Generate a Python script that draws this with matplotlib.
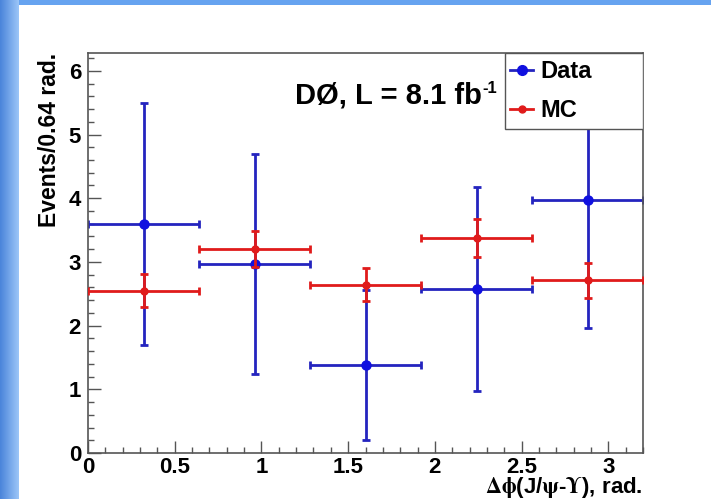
import matplotlib
matplotlib.use('Agg')
import matplotlib.pyplot as plt
import numpy as np
from matplotlib.lines import Line2D
from matplotlib.patches import Rectangle
from matplotlib.ticker import MultipleLocator, FormatStrFormatter

# bins of delta phi, 0.64 rad wide
bin_centers = [0.32, 0.96, 1.60, 2.24, 2.88]
bin_half_width = 0.32

data_vals = [3.59, 2.97, 1.38, 2.57, 3.97]
data_errs = [1.90, 1.73, 1.18, 1.60, 2.00]

mc_vals = [2.55, 3.20, 2.64, 3.38, 2.71]
mc_errs = [0.26, 0.28, 0.26, 0.30, 0.27]

x_ticks = [0, 0.5, 1, 1.5, 2, 2.5, 3]
y_ticks = [0, 1, 2, 3, 4, 5, 6]

BLUE = '#2424bf'
RED = '#e01b1b'
FRAME = '#555555'

plt.rcParams['font.family'] = ['Liberation Sans', 'DejaVu Sans']
plt.rcParams['font.weight'] = 'bold'
plt.rcParams['mathtext.fontset'] = 'stix'

W, H = 711, 499
fig = plt.figure(figsize=(W / 100, H / 100), dpi=100)
fig.patch.set_facecolor('white')

# blue slide frame on left and top
bg = fig.add_axes([0, 0, 1, 1])
bg.set_xlim(0, W)
bg.set_ylim(H, 0)
bg.axis('off')
grad = np.linspace(0, 1, 64).reshape(1, -1)
cmap = matplotlib.colors.LinearSegmentedColormap.from_list('band', ['#4a84da', '#9cc6f8'])
bg.imshow(grad, extent=[0, 19, H, 0], cmap=cmap, aspect='auto')
bg.add_patch(Rectangle((19, 0), W - 19, 5, color='#66a3f0', lw=0))

ax = fig.add_axes([88 / W, (H - 453) / H, 555 / W, 400 / H])
ax.set_xlim(0, 3.2)
ax.set_ylim(0, 6.28)

ax.errorbar(bin_centers, data_vals, xerr=bin_half_width, yerr=data_errs,
            fmt='o', color=BLUE, mfc='#1010e0', mec='#1010e0', ms=6.5,
            elinewidth=2.0, capsize=3, capthick=2.0, zorder=2)
ax.errorbar(bin_centers, mc_vals, xerr=bin_half_width, yerr=mc_errs,
            fmt='o', color=RED, ms=5, elinewidth=2.0, capsize=3,
            capthick=2.0, zorder=3)

# axis style, ROOT-like
for side in ['left', 'right', 'top', 'bottom']:
    ax.spines[side].set_color(FRAME)
    ax.spines[side].set_linewidth(1.2)
ax.xaxis.set_major_locator(MultipleLocator(0.5))
ax.xaxis.set_minor_locator(MultipleLocator(0.1))
ax.yaxis.set_major_locator(MultipleLocator(1))
ax.yaxis.set_minor_locator(MultipleLocator(0.2))
ax.set_xticks(x_ticks)
ax.set_yticks(y_ticks)
ax.xaxis.set_major_formatter(FormatStrFormatter('%g'))
ax.tick_params(which='both', direction='in', color=FRAME, width=1.0,
               labelsize=16, top=False, right=False)
ax.tick_params(which='major', length=9)
ax.tick_params(which='minor', length=4.5)
ax.tick_params(axis='x', pad=3)
ax.tick_params(axis='y', pad=5)

ax.text(-0.070, 1.0, 'Events/0.64 rad.', transform=ax.transAxes, rotation=90,
        ha='center', va='top', fontsize=16.5, fontweight='bold')
ax.text(1.0, -0.087, r'$\mathrm{\Delta\phi}$(J/$\mathrm{\psi}$-$\mathrm{\Upsilon}$), rad.',
        transform=ax.transAxes, ha='right', va='center', fontsize=16,
        fontweight='bold')

label = ax.text(0.373, 0.875, 'DØ, L = 8.1 fb', transform=ax.transAxes,
                ha='left', va='baseline', fontsize=21, fontweight='bold')
ax.annotate('-1', xy=(1.0, 1.0), xycoords=label, xytext=(0.5, 0),
            textcoords='offset points', ha='left', va='top',
            fontsize=12, fontweight='bold')

# legend box in the top right corner
ax.add_patch(Rectangle((0.751, 0.81), 0.249, 0.19, transform=ax.transAxes,
                       facecolor='white', edgecolor=FRAME, lw=1.0, zorder=4))
handles = [Line2D([], [], color=BLUE, lw=2.0, marker='o', ms=7, mfc='#1010e0', mec='#1010e0'),
           Line2D([], [], color=RED, lw=2.0, marker='o', ms=5)]
leg = ax.legend(handles, ['Data', 'MC'], loc='center left',
                bbox_to_anchor=(0.760, 0.904), frameon=False, fontsize=17,
                handlelength=1.0, handletextpad=0.3, labelspacing=0.68,
                borderpad=0, borderaxespad=0)
leg.set_zorder(5)

fig.savefig('out.png', dpi=100)
